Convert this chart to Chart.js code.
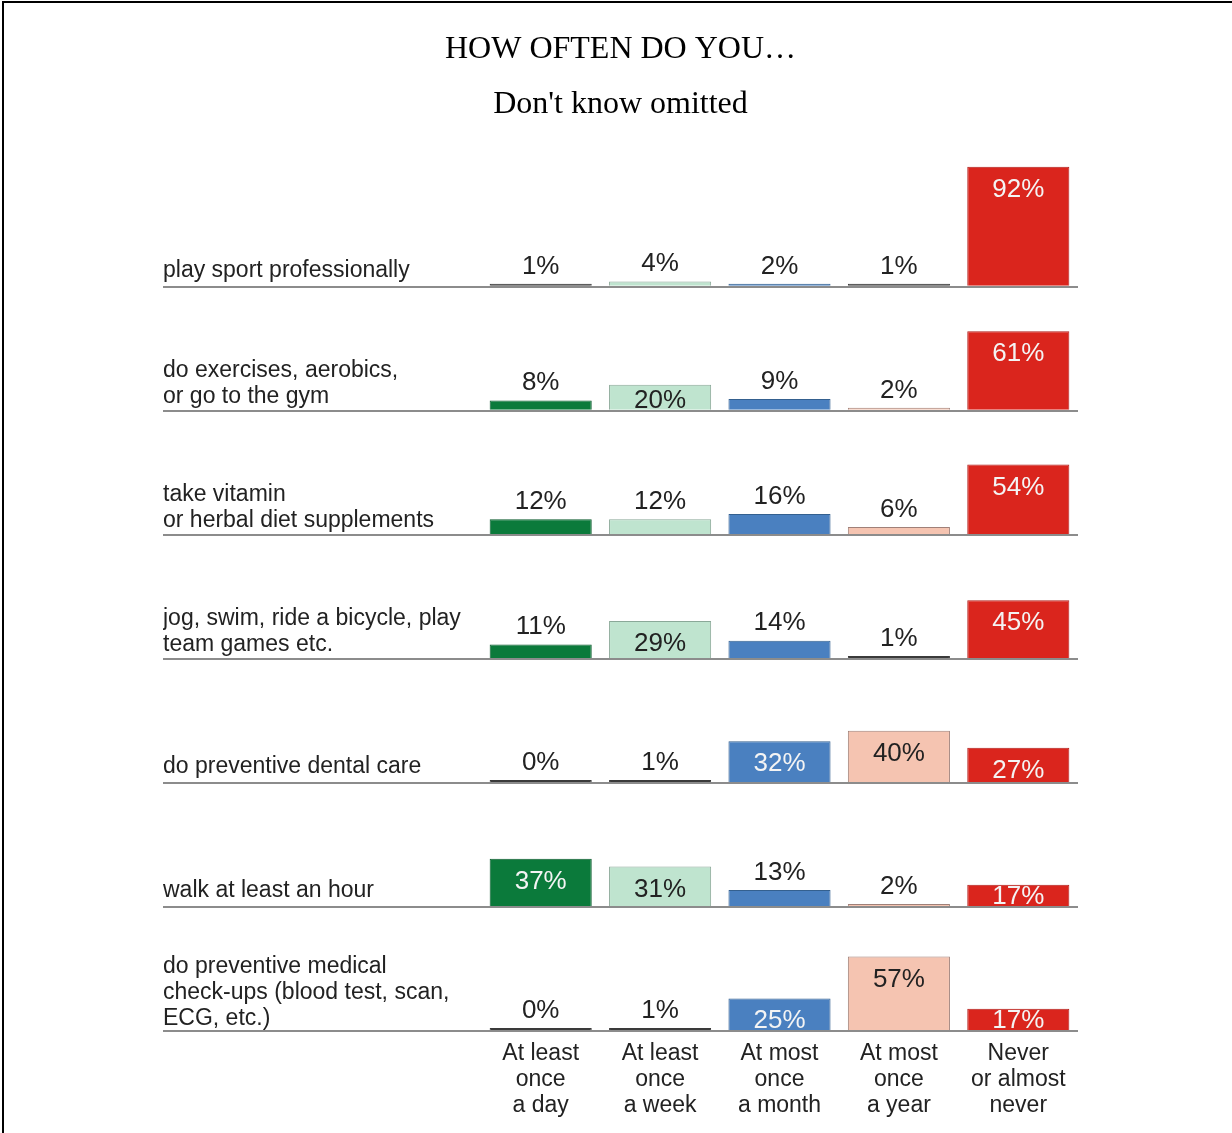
<!DOCTYPE html>
<html>
<head>
<meta charset="utf-8">
<script src="https://cdn.jsdelivr.net/npm/chart.js@4.4.1/dist/chart.umd.min.js"></script>
<style>
  html, body { margin: 0; padding: 0; background: #fff; overflow: hidden; }
  #wrap { position: relative; width: 1232px; height: 1133px; }
  #c { position: absolute; left: 0; top: 0; }
  #frame { position: absolute; left: 2px; top: 1px; width: 1300px; height: 1300px;
           border-top: 2px solid #000; border-left: 2px solid #000; pointer-events: none; }
</style>
</head>
<body>
<div id="wrap">
  <canvas id="c" width="1232" height="1133"></canvas>
  <div id="frame"></div>
</div>
<script>
// ---- data ----
const categories = [
  ['At least', 'once', 'a day'],
  ['At least', 'once', 'a week'],
  ['At most', 'once', 'a month'],
  ['At most', 'once', 'a year'],
  ['Never', 'or almost', 'never']
];
const rowLabels = [
  ['play sport professionally'],
  ['do exercises, aerobics,', 'or go to the gym'],
  ['take vitamin', 'or herbal diet supplements'],
  ['jog, swim, ride a bicycle, play', 'team games etc.'],
  ['do preventive dental care'],
  ['walk at least an hour'],
  ['do preventive medical', 'check-ups (blood test, scan,', 'ECG, etc.)']
];
const playSport   = [1, 4, 2, 1, 92];
const exercises   = [8, 20, 9, 2, 61];
const vitamins    = [12, 12, 16, 6, 54];
const jogSwim     = [11, 29, 14, 1, 45];
const dentalCare  = [0, 1, 32, 40, 27];
const walkHour    = [37, 31, 13, 2, 17];
const medicalChk  = [0, 1, 25, 57, 17];
const rowValues = [playSport, exercises, vitamins, jogSwim, dentalCare, walkHour, medicalChk];

// ---- styles ----
const fillColors   = ['#0b7a3b', '#bfe4cf', '#4a80c0', '#f5c4b1', '#da251d'];
const borderColors = ['#0a5a2c', '#8aa898', '#34608f', '#a08078', '#b01e1a'];
const insideText   = ['#f4f4f4', '#222222', '#f4f4f4', '#222222', '#f4f4f4'];
const SANS = '"Liberation Sans", Arial, sans-serif';
const SERIF = '"Liberation Serif", "Times New Roman", serif';

const datasets = rowValues.map((vals, r) => ({
  label: rowLabels[r].join(' '),
  data: vals,
  yAxisID: 'r' + r,
  grouped: false,
  categoryPercentage: 1,
  barPercentage: 0.855,
  minBarLength: 3,
  backgroundColor: ctx => (ctx.raw <= 1 ? '#3a3a3a' : fillColors[ctx.dataIndex]),
  borderColor: ctx => (ctx.raw <= 1 ? '#3a3a3a' : borderColors[ctx.dataIndex]),
  borderWidth: 1
}));

const scales = {
  x: {
    type: 'category',
    grid: { display: false },
    border: { display: false },
    ticks: {
      font: { family: SANS, size: 23, lineHeight: 1.13 },
      color: '#222',
      padding: 2,
      maxRotation: 0,
      autoSkip: false
    }
  }
};
rowLabels.forEach((lbl, r) => {
  scales['r' + r] = {
    type: 'linear',
    position: 'left',
    stack: 'rows',
    stackWeight: 1,
    weight: 10 - r,
    min: 0,
    max: 95,
    afterBuildTicks: s => { s.ticks = [{ value: 0 }]; },
    afterFit: s => { s.width = 318; },
    border: { display: false },
    grid: { color: '#8c8c8c', lineWidth: 2, drawTicks: true, tickLength: 318, drawOnChartArea: true },
    ticks: {
      callback: () => lbl,
      crossAlign: 'far',
      labelOffset: -(16 + (lbl.length - 1) * 11.25),
      font: { family: SANS, size: 23, lineHeight: 1.13 },
      color: '#222',
      autoSkip: false,
      padding: 0
    }
  };
});

const valueLabels = {
  id: 'valueLabels',
  afterDatasetsDraw(chart) {
    const ctx = chart.ctx;
    ctx.save();
    ctx.font = '26px ' + SANS;
    ctx.textAlign = 'center';
    ctx.textBaseline = 'middle';
    chart.data.datasets.forEach((ds, di) => {
      const meta = chart.getDatasetMeta(di);
      meta.data.forEach((bar, i) => {
        const v = ds.data[i];
        let y;
        if (v >= 17) {
          y = Math.min(bar.y + 23, bar.base - 9);
          ctx.fillStyle = insideText[i];
        } else {
          y = bar.y - 17.5;
          ctx.fillStyle = '#222';
        }
        ctx.fillText(v + '%', bar.x, y);
      });
    });
    ctx.restore();
  }
};

new Chart(document.getElementById('c'), {
  type: 'bar',
  data: { labels: categories, datasets },
  options: {
    responsive: false,
    animation: false,
    events: [],
    layout: { padding: { left: 163, right: 154, top: 30, bottom: 12 } },
    scales,
    plugins: {
      legend: { display: false },
      tooltip: { enabled: false },
      title: {
        display: true,
        text: 'HOW OFTEN DO YOU…',
        color: '#000',
        font: { family: SERIF, size: 32, weight: 'normal' },
        padding: { top: 0, bottom: 17 }
      },
      subtitle: {
        display: true,
        text: "Don't know omitted",
        color: '#000',
        font: { family: SERIF, size: 32, weight: 'normal' },
        padding: { top: 0, bottom: 39 }
      }
    }
  },
  plugins: [valueLabels]
});
</script>
</body>
</html>
